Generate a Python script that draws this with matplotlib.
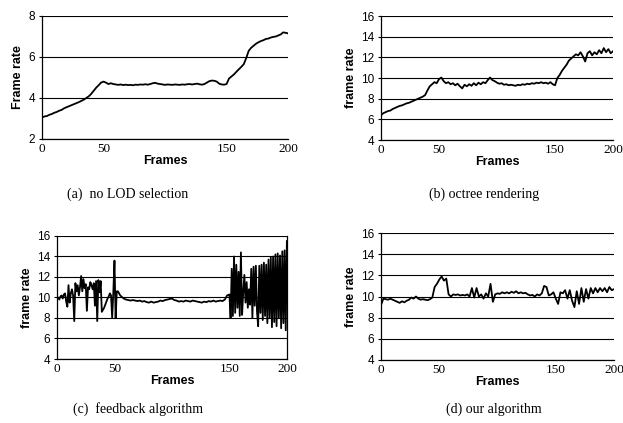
import numpy as np
import matplotlib.pyplot as plt

# ------------------------------------------------------------
# Donnees (frame rate par frame)
# ------------------------------------------------------------

frames_a = np.arange(0, 201, 2)
rate_a = [3.05, 3.10, 3.12, 3.18, 3.22, 3.28, 3.32, 3.38, 3.42, 3.50,
          3.55, 3.60, 3.65, 3.70, 3.75, 3.80, 3.86, 3.92, 4.00, 4.08,
          4.20, 4.35, 4.50, 4.62, 4.75, 4.80, 4.75, 4.68, 4.72, 4.68,
          4.66, 4.64, 4.66, 4.63, 4.65, 4.63, 4.64, 4.62, 4.65, 4.64,
          4.66, 4.65, 4.67, 4.65, 4.68, 4.72, 4.74, 4.70, 4.68, 4.66,
          4.64, 4.66, 4.65, 4.64, 4.66, 4.65, 4.64, 4.66, 4.65, 4.67,
          4.68, 4.66, 4.68, 4.70, 4.67, 4.65, 4.68, 4.75, 4.82, 4.85,
          4.84, 4.80, 4.70, 4.66, 4.65, 4.68, 4.95, 5.05, 5.15, 5.28,
          5.40, 5.52, 5.65, 5.95, 6.30, 6.45, 6.55, 6.65, 6.72, 6.78,
          6.82, 6.88, 6.90, 6.95, 6.98, 7.00, 7.05, 7.10, 7.20, 7.18,
          7.15]

frames_b = np.arange(0, 201, 2)
rate_b = [6.4, 6.6, 6.7, 6.8, 6.85, 7.0, 7.1, 7.2, 7.3, 7.35,
          7.45, 7.55, 7.6, 7.7, 7.8, 7.9, 8.0, 8.1, 8.2, 8.35,
          8.8, 9.2, 9.4, 9.6, 9.5, 9.9, 10.05, 9.7, 9.5, 9.6,
          9.4, 9.5, 9.3, 9.45, 9.2, 9.0, 9.35, 9.2, 9.4, 9.25,
          9.5, 9.3, 9.55, 9.4, 9.6, 9.5, 9.8, 10.05, 9.8, 9.7,
          9.55, 9.45, 9.5, 9.35, 9.4, 9.3, 9.35, 9.3, 9.25, 9.35,
          9.3, 9.4, 9.35, 9.45, 9.4, 9.5, 9.45, 9.55, 9.5, 9.6,
          9.5, 9.55, 9.45, 9.6, 9.4, 9.3, 10.0, 10.3, 10.7, 11.0,
          11.3, 11.7, 11.9, 12.1, 12.3, 12.2, 12.5, 12.1, 11.6, 12.4,
          12.6, 12.2, 12.5, 12.3, 12.7, 12.4, 12.9, 12.5, 12.8, 12.4,
          12.6]

frames_c = ([0, 1, 2, 3, 4, 5, 6, 7, 8, 9, 10, 11, 12, 13, 14, 15, 16, 17,
             18, 19, 20, 21, 22, 23, 24, 25, 26, 27, 28, 29, 30, 31, 32, 33,
             34, 35, 36, 37, 38, 39, 40, 41, 42, 43, 44, 45, 46, 47, 48, 49,
             50, 51, 52, 53, 54, 55]
            + [56, 58, 60, 62, 64, 66, 68, 70, 72, 74, 76, 78, 80, 82, 84, 86,
               88, 90, 92, 94, 96, 98, 100, 102, 104, 106, 108, 110, 112, 114,
               116, 118, 120, 122, 124, 126, 128, 130, 132, 134, 136, 138, 140,
               142, 144, 146, 148, 150]
            + [151, 152, 153, 154, 155, 156, 157, 158, 159, 160, 161, 162, 163,
               164, 165, 166, 167, 168, 169, 170, 171, 172, 173, 174, 175, 176,
               177, 178, 179, 180, 181, 182, 183, 184, 185, 186, 187, 188, 189,
               190, 191, 192, 193, 194, 195, 196, 197, 198, 199, 200])
rate_c = ([9.9, 10.0, 9.8, 10.1, 10.2, 9.9, 10.3, 10.4, 9.6, 9.1,
           11.2, 9.5, 10.4, 10.8, 10.2, 7.7, 11.4, 10.6, 11.2, 10.2,
           11.0, 12.1, 10.6, 11.8, 10.9, 11.3, 8.7, 11.0, 10.8, 11.5,
           11.2, 10.8, 11.4, 9.2, 11.6, 7.7, 11.7, 10.5, 11.6, 8.6,
           8.8, 9.0, 9.3, 9.6, 9.9, 10.1, 10.4, 10.2, 8.0, 10.5,
           13.6, 8.0, 10.6, 10.6, 10.4, 10.2]
          + [10.1, 9.9, 9.8, 9.75, 9.7, 9.75, 9.7, 9.65, 9.7, 9.6,
             9.65, 9.55, 9.5, 9.6, 9.5, 9.55, 9.6, 9.7, 9.65, 9.75,
             9.8, 9.85, 9.9, 9.75, 9.7, 9.6, 9.65, 9.6, 9.7, 9.65,
             9.6, 9.7, 9.65, 9.6, 9.55, 9.5, 9.6, 9.55, 9.65, 9.6,
             9.7, 9.6, 9.65, 9.7, 9.65, 9.8, 10.2, 10.3]
          + [8.0, 12.8, 8.2, 14.0, 8.5, 13.2, 9.0, 12.5, 8.2, 14.4,
             8.3, 10.5, 12.2, 9.5, 11.5, 9.0, 10.8, 9.3, 12.8, 8.0,
             13.0, 9.2, 13.1, 8.6, 7.2, 13.1, 8.5, 13.2, 7.8, 13.4,
             8.2, 13.2, 7.5, 13.7, 8.0, 13.9, 7.1, 14.0, 7.6, 14.2,
             7.2, 14.3, 8.0, 14.1, 7.0, 14.5, 7.5, 14.6, 6.8, 15.5])

frames_d = np.arange(0, 201, 2)
rate_d = [9.2, 9.8, 9.75, 9.7, 9.8, 9.7, 9.6, 9.5, 9.4, 9.55,
          9.45, 9.6, 9.7, 9.9, 9.8, 10.0, 9.8, 9.7, 9.75, 9.7,
          9.65, 9.75, 9.9, 10.9, 11.2, 11.6, 11.9, 11.5, 11.7, 10.2,
          10.0, 10.2, 10.15, 10.2, 10.1, 10.15, 10.1, 10.2, 10.0, 10.8,
          9.9, 10.8, 10.0, 10.2, 9.8, 10.3, 10.0, 11.2, 9.5, 10.2,
          10.3, 10.25, 10.4, 10.3, 10.4, 10.3, 10.45, 10.35, 10.5, 10.3,
          10.4, 10.3, 10.35, 10.2, 10.1, 10.15, 10.0, 10.2, 10.1, 10.3,
          11.0, 10.9, 10.1, 10.2, 10.4, 9.8, 9.3, 10.4, 10.3, 10.6,
          9.8, 10.6, 9.6, 9.0, 10.5, 9.3, 10.8, 9.5, 10.7, 9.8,
          10.8, 10.3, 10.8, 10.4, 10.8, 10.5, 10.8, 10.4, 10.9, 10.6,
          10.7]

x_ticks = [0, 50, 150, 200]
captions = ["(a)  no LOD selection", "(b) octree rendering",
            "(c)  feedback algorithm", "(d) our algorithm"]
ylabels = ["Frame rate", "frame rate", "frame rate", "frame rate"]
ylims = [(2, 8), (4, 16), (4, 16), (4, 16)]

# ------------------------------------------------------------
# Figure
# ------------------------------------------------------------

fig = plt.figure(figsize=(6.23, 4.23), dpi=100)

boxes = [[0.0674, 0.6714, 0.395, 0.2908],
         [0.6116, 0.669, 0.3724, 0.293],
         [0.0915, 0.1513, 0.369, 0.2908],
         [0.6116, 0.149, 0.374, 0.300]]
series = [(frames_a, rate_a), (frames_b, rate_b),
          (frames_c, rate_c), (frames_d, rate_d)]
cap_pos = [(0.205, 0.533), (0.777, 0.533), (0.222, 0.024), (0.793, 0.024)]

for i in range(4):
    ax = fig.add_axes(boxes[i])
    x, y = series[i]
    ax.plot(x, y, color="black", linewidth=1.3)
    lo, hi = ylims[i]
    ax.set_xlim(0, 200)
    ax.set_ylim(lo, hi)
    ax.set_yticks(np.arange(lo, hi + 1, 2))
    ax.set_xticks(x_ticks)
    ax.grid(True, axis="y", color="black", linewidth=0.8)
    ax.set_axisbelow(True)
    ax.spines["top"].set_visible(False)
    ax.spines["right"].set_visible(i == 2)
    for s in ax.spines.values():
        s.set_linewidth(0.9)
    ax.tick_params(axis="x", length=0, pad=3)
    ax.tick_params(axis="y", length=2, pad=3)
    for t in ax.get_xticklabels():
        t.set_fontfamily("Liberation Serif")
        t.set_fontsize(9.5)
    for t in ax.get_yticklabels():
        t.set_fontfamily("Liberation Sans")
        t.set_fontsize(8.5)
    ax.set_xlabel("Frames", fontfamily="Liberation Sans",
                  fontweight="bold", fontsize=9, labelpad=0)
    ax.set_ylabel(ylabels[i], fontfamily="Liberation Sans",
                  fontweight="bold", fontsize=9, labelpad=3)
    fig.text(cap_pos[i][0], cap_pos[i][1], captions[i], ha="center",
             fontfamily="Liberation Serif", fontsize=10)

plt.savefig("out.png", dpi=100)
